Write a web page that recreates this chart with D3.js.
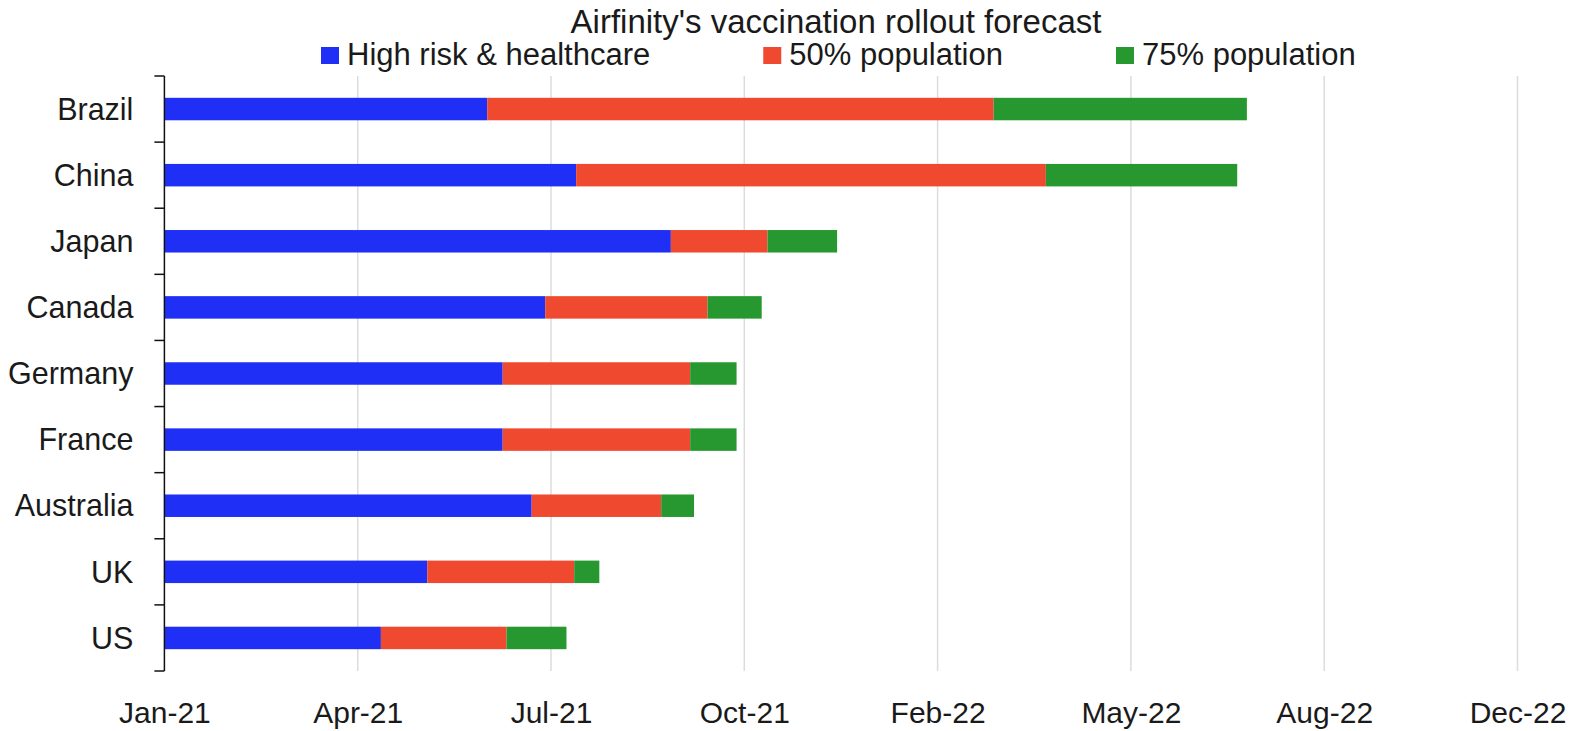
<!DOCTYPE html>
<html>
<head>
<meta charset="utf-8">
<script src="https://cdn.jsdelivr.net/npm/d3@7"></script>
<style>
  html, body { margin: 0; padding: 0; background: #fff; }
  svg { display: block; font-family: "Liberation Sans", Arial, Helvetica, sans-serif; }
</style>
</head>
<body>
<svg id="chart" width="1575" height="731"></svg>
<script>
// ---- data (days since 1 Jan 2021) ----
const categories = ["Brazil", "China", "Japan", "Canada", "Germany", "France", "Australia", "UK", "US"];
const highRisk   = [167, 213, 262, 197, 175, 175, 190, 136, 112]; // High risk & healthcare
const pop50      = [262, 243,  50,  84,  97,  97,  67,  76,  65]; // additional days to 50% population
const pop75      = [131,  99,  36,  28,  24,  24,  17,  13,  31]; // additional days to 75% population
const seriesKeys   = ["high", "p50", "p75"];
const seriesNames  = ["High risk & healthcare", "50% population", "75% population"];
const seriesColors = ["#1f2ff6", "#ef4a2f", "#26982f"];
const tickDays   = [0, 100, 200, 300, 400, 500, 600, 700];
const tickLabels = ["Jan-21", "Apr-21", "Jul-21", "Oct-21", "Feb-22", "May-22", "Aug-22", "Dec-22"];

// ---- layout ----
const svg = d3.select("#chart");
const plotLeft = 164.4, plotRight = 1517.5, plotTop = 76, plotBottom = 671;
const textColor = "#1a1a1a";

const table = categories.map((c, i) => ({ country: c, high: highRisk[i], p50: pop50[i], p75: pop75[i] }));
const stacked = d3.stack().keys(seriesKeys)(table);

const x = d3.scaleLinear().domain([0, 700]).range([plotLeft, plotRight]);
const y = d3.scaleBand().domain(categories).range([plotTop, plotBottom]).paddingInner(0.66).paddingOuter(0.33);
const color = d3.scaleOrdinal().domain(seriesKeys).range(seriesColors);

// gridlines
svg.append("g")
  .selectAll("line")
  .data(tickDays.slice(1))
  .join("line")
  .attr("x1", d => x(d)).attr("x2", d => x(d))
  .attr("y1", plotTop).attr("y2", plotBottom)
  .attr("stroke", "#dcdcdc").attr("stroke-width", 1.5);

// bars
svg.append("g")
  .selectAll("g")
  .data(stacked)
  .join("g")
  .attr("fill", d => color(d.key))
  .selectAll("rect")
  .data(d => d)
  .join("rect")
  .attr("x", d => x(d[0]))
  .attr("width", d => x(d[1]) - x(d[0]))
  .attr("y", d => y(d.data.country))
  .attr("height", y.bandwidth());

// y axis: labels at band centres, ticks at band boundaries
const yAxis = svg.append("g")
  .attr("transform", `translate(${plotLeft},0)`)
  .call(d3.axisLeft(y).tickSize(0).tickPadding(31));
yAxis.select(".domain").remove();
yAxis.selectAll("text")
  .attr("font-size", 30.5).attr("fill", textColor)
  .attr("font-family", '"Liberation Sans", Arial, sans-serif')
  .attr("dy", "0.35em");

const boundaries = d3.range(categories.length + 1).map(i => plotTop + i * y.step());
svg.append("line")
  .attr("x1", plotLeft).attr("x2", plotLeft)
  .attr("y1", plotTop).attr("y2", plotBottom)
  .attr("stroke", "#111").attr("stroke-width", 1.5);
svg.append("g")
  .selectAll("line")
  .data(boundaries)
  .join("line")
  .attr("x1", plotLeft - 10).attr("x2", plotLeft)
  .attr("y1", d => d).attr("y2", d => d)
  .attr("stroke", "#111").attr("stroke-width", 1.5);

// x axis labels
const xAxis = svg.append("g")
  .attr("transform", `translate(0,${plotBottom})`)
  .call(d3.axisBottom(x).tickValues(tickDays).tickFormat((d, i) => tickLabels[i]).tickSize(0).tickPadding(0));
xAxis.select(".domain").remove();
xAxis.selectAll("text")
  .attr("font-size", 30).attr("fill", textColor)
  .attr("font-family", '"Liberation Sans", Arial, sans-serif')
  .attr("dy", null)
  .attr("y", 52);

// title
svg.append("text")
  .attr("x", 836).attr("y", 33)
  .attr("text-anchor", "middle")
  .attr("font-size", 33).attr("fill", textColor)
  .text("Airfinity's vaccination rollout forecast");

// legend
const legend = svg.append("g");
let lx = 321;
seriesNames.forEach((name, i) => {
  const g = legend.append("g").attr("transform", `translate(${lx},0)`);
  g.append("rect").attr("x", 0).attr("y", 47).attr("width", 18).attr("height", 17).attr("fill", seriesColors[i]);
  const t = g.append("text").attr("x", 26).attr("y", 65)
    .attr("font-size", 31).attr("fill", textColor).text(name);
  lx += 26 + t.node().getComputedTextLength() + 113;
});
</script>
</body>
</html>
